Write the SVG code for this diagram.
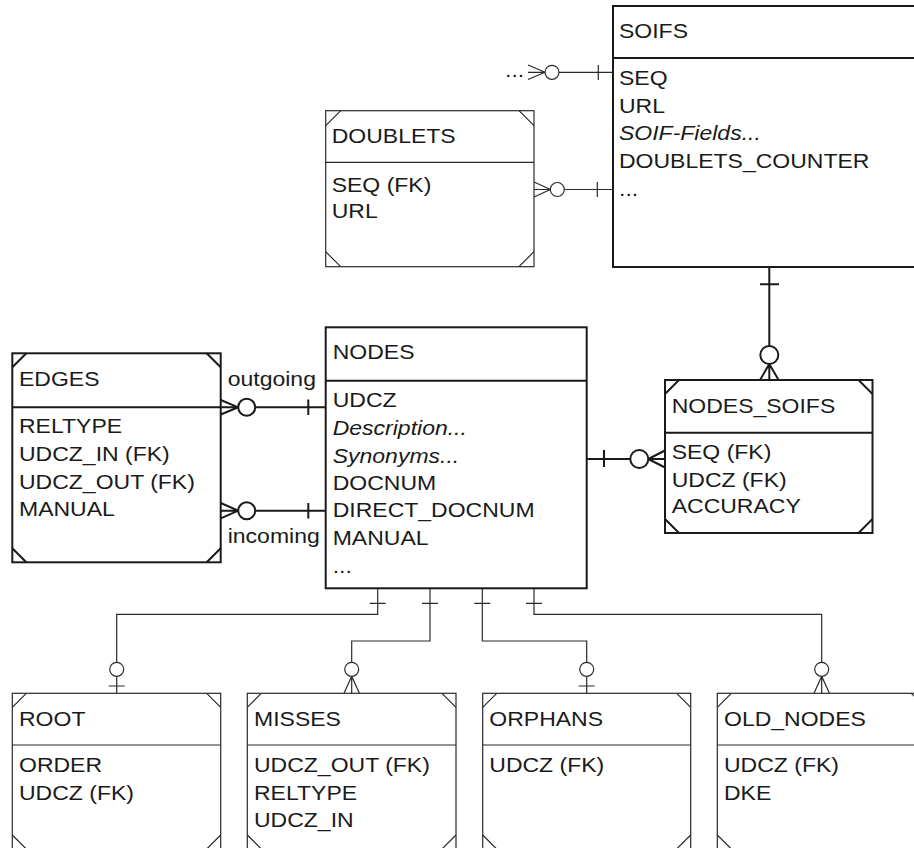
<svg xmlns="http://www.w3.org/2000/svg" width="914" height="848" viewBox="0 0 914 848">
<style>
text{font-family:"Liberation Sans",Arial,sans-serif;font-size:20px;fill:#1a1a1a}
.it{font-style:italic}
.bx{fill:#fff;stroke:#1a1a1a;stroke-width:2}
.bt{fill:#fff;stroke:#2a2a2a;stroke-width:1.2}
.ln{fill:none;stroke:#1a1a1a;stroke-width:2}
.lt{fill:none;stroke:#2a2a2a;stroke-width:1.2}
.c{fill:#fff;stroke:#1a1a1a;stroke-width:2}
.ct{fill:#fff;stroke:#2a2a2a;stroke-width:1.2}
</style>
<rect width="914" height="848" fill="#fff"/>

<g id="connectors">
  <!-- ... to SOIFS -->
  <text transform="translate(505 77) scale(1.15 1)">...</text>
  <path class="lt" d="M528 65 L545 72.3 M528 72.3 H545 M528 79.5 L545 72.3 M559 72.3 H613 M598.3 65 V80"/>
  <circle class="ct" cx="552" cy="72.3" r="7"/>
  <!-- DOUBLETS to SOIFS -->
  <path class="lt" d="M534 182 L550.5 189.5 M534 189.5 H550.5 M534 197 L550.5 189.5 M564.3 189.5 H613 M597.3 182 V197"/>
  <circle class="ct" cx="557.3" cy="189.5" r="7"/>
  <!-- outgoing -->
  <path class="ln" d="M220.7 400 L238.3 407.3 M220.7 407.3 H238.3 M220.7 414.5 L238.3 407.3 M255.2 407.3 H325.7 M308.3 399.5 V415"/>
  <circle class="c" cx="246.7" cy="407.3" r="8.5"/>
  <text transform="translate(227.7 385.7) scale(1.15 1)">outgoing</text>
  <!-- incoming -->
  <path class="ln" d="M220.7 503 L238.3 510.7 M220.7 510.7 H238.3 M220.7 518.3 L238.3 510.7 M255.2 510.7 H325.7 M308.3 503 V518.5"/>
  <circle class="c" cx="246.7" cy="510.7" r="8.5"/>
  <text transform="translate(227.7 542.5) scale(1.15 1)">incoming</text>
  <!-- NODES to NODES_SOIFS -->
  <path class="ln" d="M586.7 459 H630.3 M604 450 V467 M648.3 459 L665 450.5 M648.3 459 H665 M648.3 459 L665 467.5"/>
  <circle class="c" cx="639.3" cy="459" r="9"/>
  <!-- SOIFS to NODES_SOIFS -->
  <path class="ln" d="M769.3 267 V346 M760 284.3 H779 M769.3 364 L760 380 M769.3 364 V380 M769.3 364 L778.6 380"/>
  <circle class="c" cx="769.3" cy="355" r="9"/>
  <!-- NODES to ROOT -->
  <path class="lt" d="M377.7 588.3 V614.3 H116.7 V662.3 M369.7 603.3 H385.7 M116.7 676.3 V693.3 M108.7 686 H124.7"/>
  <circle class="ct" cx="116.7" cy="669.3" r="7"/>
  <!-- NODES to MISSES -->
  <path class="lt" d="M430 588.3 V641 H351.7 V662.3 M422 603.3 H438 M351.7 676.3 L344 693.3 M351.7 676.3 V693.3 M351.7 676.3 L359.4 693.3"/>
  <circle class="ct" cx="351.7" cy="669.3" r="7"/>
  <!-- NODES to ORPHANS -->
  <path class="lt" d="M482.3 588.3 V641 H586.7 V662.3 M474.3 603.3 H490.3 M586.7 676.3 V693.3 M578.7 686 H594.7"/>
  <circle class="ct" cx="586.7" cy="669.3" r="7"/>
  <!-- NODES to OLD_NODES -->
  <path class="lt" d="M534 588.3 V614.3 H821.7 V662.3 M526 603.3 H542 M821.7 676.3 L814 693.3 M821.7 676.3 V693.3 M821.7 676.3 L829.4 693.3"/>
  <circle class="ct" cx="821.7" cy="669.3" r="7"/>
</g>

<g id="SOIFS">
  <rect class="bx" x="613" y="6" width="320" height="261"/>
  <line class="ln" x1="613" y1="58" x2="933" y2="58"/>
  <text transform="translate(619 38) scale(1.15 1)">SOIFS</text>
  <text transform="translate(619 85) scale(1.15 1)">SEQ</text>
  <text transform="translate(619 112.7) scale(1.15 1)">URL</text>
  <text class="it" transform="translate(619 140.3) scale(1.15 1)">SOIF-Fields...</text>
  <text transform="translate(619 168) scale(1.15 1)">DOUBLETS_COUNTER</text>
  <text transform="translate(619 195.7) scale(1.15 1)">...</text>
</g>

<g id="DOUBLETS">
  <rect class="bt" x="325.7" y="110.7" width="208.3" height="156"/>
  <path class="lt" d="M325.7 162.3 H534 M325.7 125.7 L340.7 110.7 M519 110.7 L534 125.7 M325.7 251.7 L340.7 266.7 M519 266.7 L534 251.7"/>
  <text transform="translate(331.7 143.3) scale(1.15 1)">DOUBLETS</text>
  <text transform="translate(331.7 191.7) scale(1.15 1)">SEQ (FK)</text>
  <text transform="translate(331.7 218.3) scale(1.15 1)">URL</text>
</g>

<g id="EDGES">
  <rect class="bx" x="12.3" y="353.3" width="208.4" height="209"/>
  <path class="ln" d="M12.3 407.3 H220.7 M12.3 367.3 L26.3 353.3 M206.7 353.3 L220.7 367.3 M12.3 548.3 L26.3 562.3 M206.7 562.3 L220.7 548.3"/>
  <text transform="translate(19 385.7) scale(1.15 1)">EDGES</text>
  <text transform="translate(19 433.3) scale(1.15 1)">RELTYPE</text>
  <text transform="translate(19 461) scale(1.15 1)">UDCZ_IN (FK)</text>
  <text transform="translate(19 488.7) scale(1.15 1)">UDCZ_OUT (FK)</text>
  <text transform="translate(19 516) scale(1.15 1)">MANUAL</text>
</g>

<g id="NODES">
  <rect class="bx" x="325.7" y="327.3" width="261" height="261"/>
  <line class="ln" x1="325.7" y1="380.7" x2="586.7" y2="380.7"/>
  <text transform="translate(332.7 359.3) scale(1.15 1)">NODES</text>
  <text transform="translate(332.7 407.3) scale(1.15 1)">UDCZ</text>
  <text class="it" transform="translate(332.7 435) scale(1.15 1)">Description...</text>
  <text class="it" transform="translate(332.7 462.7) scale(1.15 1)">Synonyms...</text>
  <text transform="translate(332.7 490) scale(1.15 1)">DOCNUM</text>
  <text transform="translate(332.7 517.3) scale(1.15 1)">DIRECT_DOCNUM</text>
  <text transform="translate(332.7 545) scale(1.15 1)">MANUAL</text>
  <text transform="translate(332.7 572.7) scale(1.15 1)">...</text>
</g>

<g id="NODES_SOIFS">
  <rect class="bx" x="665" y="380" width="207.5" height="153"/>
  <path class="ln" d="M665 432.7 H872.5 M665 394 L679 380 M858.5 380 L872.5 394 M665 519 L679 533 M858.5 533 L872.5 519"/>
  <text transform="translate(671.7 412.7) scale(1.15 1)">NODES_SOIFS</text>
  <text transform="translate(671.7 459) scale(1.15 1)">SEQ (FK)</text>
  <text transform="translate(671.7 486.7) scale(1.15 1)">UDCZ (FK)</text>
  <text transform="translate(671.7 513.3) scale(1.15 1)">ACCURACY</text>
</g>

<g id="ROOT">
  <rect class="bt" x="12.3" y="693.3" width="208.4" height="156"/>
  <path class="lt" d="M12.3 745 H220.7 M12.3 707.3 L26.3 693.3 M206.7 693.3 L220.7 707.3 M12.3 835 L26.3 849 M206.7 849 L220.7 835"/>
  <text transform="translate(19 725.7) scale(1.15 1)">ROOT</text>
  <text transform="translate(19 772.3) scale(1.15 1)">ORDER</text>
  <text transform="translate(19 800) scale(1.15 1)">UDCZ (FK)</text>
</g>

<g id="MISSES">
  <rect class="bt" x="247.3" y="693.3" width="208.7" height="156"/>
  <path class="lt" d="M247.3 745 H456 M247.3 707.3 L261.3 693.3 M442 693.3 L456 707.3 M247.3 835 L261.3 849 M442 849 L456 835"/>
  <text transform="translate(254 725.7) scale(1.15 1)">MISSES</text>
  <text transform="translate(254 772.3) scale(1.15 1)">UDCZ_OUT (FK)</text>
  <text transform="translate(254 800) scale(1.15 1)">RELTYPE</text>
  <text transform="translate(254 827.3) scale(1.15 1)">UDCZ_IN</text>
</g>

<g id="ORPHANS">
  <rect class="bt" x="482.7" y="693.3" width="208" height="156"/>
  <path class="lt" d="M482.7 745 H690.7 M482.7 707.3 L496.7 693.3 M676.7 693.3 L690.7 707.3 M482.7 835 L496.7 849 M676.7 849 L690.7 835"/>
  <text transform="translate(489.3 725.7) scale(1.15 1)">ORPHANS</text>
  <text transform="translate(489.3 772.3) scale(1.15 1)">UDCZ (FK)</text>
</g>

<g id="OLD_NODES">
  <rect class="bt" x="717.3" y="693.3" width="208" height="156"/>
  <path class="lt" d="M717.3 745 H925.3 M717.3 707.3 L731.3 693.3 M911.3 693.3 L925.3 707.3 M717.3 835 L731.3 849"/>
  <text transform="translate(724 725.7) scale(1.15 1)">OLD_NODES</text>
  <text transform="translate(724 772.3) scale(1.15 1)">UDCZ (FK)</text>
  <text transform="translate(724 800) scale(1.15 1)">DKE</text>
</g>
</svg>
